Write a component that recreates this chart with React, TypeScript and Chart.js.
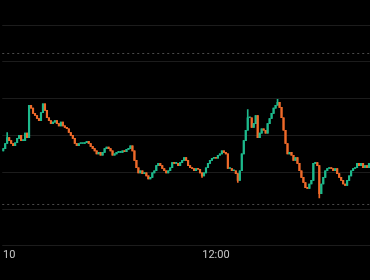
import { useEffect, useRef } from "react";
import { Chart, registerables } from "chart.js";

Chart.register(...registerables);

// Closing prices, one candle per bar slot, oldest first.
const closes = [
  2463.2, 2463.9, 2464.7, 2464.3, 2463.9, 2463.6, 2464.0, 2464.6, 2465.0, 2464.3,
  2464.3, 2465.3, 2464.7, 2469.1, 2468.7, 2468.0, 2467.7, 2467.3, 2467.0, 2468.1,
  2469.3, 2468.4, 2467.4, 2467.0, 2466.6, 2466.8, 2467.0, 2466.6, 2466.3, 2466.8,
  2466.3, 2466.1, 2465.9, 2465.4, 2465.0, 2464.6, 2463.9, 2463.6, 2463.9, 2463.9,
  2463.9, 2464.0, 2464.2, 2463.9, 2463.5, 2463.2, 2462.9, 2462.5, 2462.7, 2462.3,
  2462.7, 2463.2, 2463.4, 2463.2, 2462.9, 2462.3, 2462.5, 2462.7, 2462.7, 2462.7,
  2462.9, 2462.8, 2463.1, 2463.2, 2463.6, 2462.9, 2461.6, 2460.6, 2459.9, 2460.2,
  2459.8, 2459.9, 2459.5, 2459.1, 2459.3, 2459.9, 2460.2, 2460.9, 2461.2, 2460.9,
  2460.5, 2460.2, 2459.9, 2460.2, 2460.6, 2461.3, 2461.2, 2461.2, 2460.9, 2461.3,
  2461.6, 2462.0, 2461.6, 2460.9, 2460.6, 2460.5, 2460.2, 2460.5, 2460.4, 2459.9,
  2459.5, 2459.9, 2460.6, 2461.2, 2461.6, 2461.9, 2462.0, 2461.9, 2462.3, 2462.5,
  2462.9, 2462.7, 2462.5, 2460.5, 2460.5, 2460.2, 2460.2, 2459.8, 2458.9, 2460.2,
  2462.5, 2464.3, 2465.7, 2467.4, 2467.4, 2466.1, 2466.6, 2467.7, 2464.7, 2465.3,
  2465.9, 2465.7, 2465.3, 2466.6, 2467.3, 2468.0, 2468.7, 2469.1, 2469.5, 2468.8,
  2467.4, 2465.7, 2463.9, 2462.5, 2462.7, 2462.3, 2461.6, 2462.0, 2461.2, 2460.2,
  2459.3, 2458.6, 2457.9, 2457.8, 2458.4, 2458.9, 2461.2, 2461.3, 2460.9, 2457.1,
  2458.4, 2459.3, 2460.2, 2460.5, 2460.6, 2460.5, 2460.2, 2460.5, 2459.8, 2459.3,
  2458.9, 2458.4, 2458.2, 2458.9, 2459.5, 2460.2, 2460.5, 2460.6, 2461.2, 2460.9,
  2461.2, 2460.6, 2460.9, 2460.6, 2461.2,
];

// Open of the very first candle; every later candle opens at the previous close.
const firstOpen = 2462.9;

// Candles whose wicks reach past their bodies (candle index -> price).
const wickHighs: Record<number, number> = { 2: 2465.4, 123: 2468.5, 138: 2469.9 };
const wickLows: Record<number, number> = { 100: 2459.3, 118: 2458.6, 159: 2456.5 };

// Dashed reference price levels.
const refLevels = [2476.2, 2455.7];

// Time axis labels and the candle each one sits under.
const tickLabels = ["10", "12:00"];
const tickIndex = [3, 107];

// Price axis range and grid spacing.
const priceMin = 2450;
const priceMax = 2483.4;
const priceStep = 5;

const UP = "#1db98c";
const DOWN = "#ef6a2a";

const refLinesPlugin = {
  id: "refLines",
  beforeDatasetsDraw(chart: any) {
    const { ctx, chartArea, scales } = chart;
    ctx.save();
    ctx.strokeStyle = "#4a4a4a";
    ctx.lineWidth = 1;
    ctx.setLineDash([2, 3]);
    refLevels.forEach((v) => {
      const py = Math.round(scales.y.getPixelForValue(v)) + 0.5;
      ctx.beginPath();
      ctx.moveTo(chartArea.left, py);
      ctx.lineTo(chartArea.right, py);
      ctx.stroke();
    });
    ctx.restore();
  },
};

export default function App() {
  const canvasRef = useRef<HTMLCanvasElement>(null);

  useEffect(() => {
    const opens = closes.map((c, i) => (i === 0 ? firstOpen : closes[i - 1]));
    const highs = closes.map((c, i) =>
      Math.max(opens[i], c, wickHighs[i] ?? -Infinity)
    );
    const lows = closes.map((c, i) =>
      Math.min(opens[i], c, wickLows[i] ?? Infinity)
    );
    const colors = closes.map((c, i) => (c >= opens[i] ? UP : DOWN));
    const labels = closes.map((_, i) => String(i));

    const gridTicks: { value: number }[] = [];
    for (let v = priceMin; v <= priceMax; v += priceStep) gridTicks.push({ value: v });

    const chart = new Chart(canvasRef.current!, {
      type: "bar",
      data: {
        labels,
        datasets: [
          {
            data: closes.map((_, i) => [lows[i], highs[i]]),
            backgroundColor: colors,
            barThickness: 1,
            grouped: false,
            order: 2,
          } as any,
          {
            data: closes.map((c, i) => [opens[i], c]),
            backgroundColor: colors,
            barThickness: 1.5,
            minBarLength: 1,
            grouped: false,
            order: 1,
          } as any,
        ],
      },
      options: {
        animation: false,
        responsive: true,
        maintainAspectRatio: false,
        layout: { padding: { left: 0, right: 0, top: 0, bottom: 15 } },
        plugins: {
          legend: { display: false },
          tooltip: { enabled: false },
        },
        scales: {
          x: {
            grid: { display: false, drawTicks: false },
            border: { display: false },
            afterBuildTicks: (scale: any) => {
              scale.ticks = tickIndex.map((v) => ({ value: v }));
            },
            ticks: {
              autoSkip: false,
              maxRotation: 0,
              minRotation: 0,
              padding: 3,
              color: "#c8c8c8",
              font: { family: "Roboto", size: 11 },
              callback: (v: any) => {
                const k = tickIndex.indexOf(Number(v));
                return k >= 0 ? tickLabels[k] : "";
              },
            },
          },
          y: {
            position: "right",
            min: priceMin,
            max: priceMax,
            afterBuildTicks: (scale: any) => {
              scale.ticks = gridTicks.map((t) => ({ ...t }));
            },
            ticks: { display: false },
            grid: { color: "#1c1c1c", drawTicks: false },
            border: { display: false },
          },
        },
      },
      plugins: [refLinesPlugin],
    });

    return () => chart.destroy();
  }, []);

  return (
    <div
      style={{
        position: "absolute",
        left: 0,
        top: 0,
        width: 370,
        height: 280,
        background: "#000",
      }}
    >
      <canvas ref={canvasRef} />
    </div>
  );
}
